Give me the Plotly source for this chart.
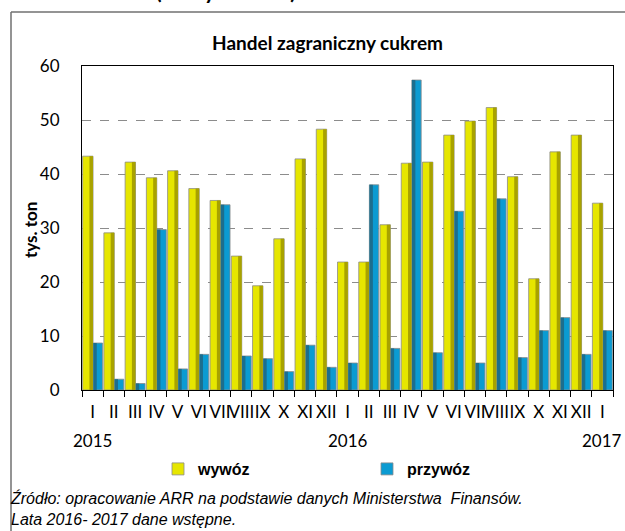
import plotly.graph_objects as go

months = ["I", "II", "III", "IV", "V", "VI", "VII", "VIII", "IX", "X", "XI", "XII",
          "I", "II", "III", "IV", "V", "VI", "VII", "VIII", "IX", "X", "XI", "XII", "I"]
years = ["2015"] * 12 + ["2016"] * 12 + ["2017"]
keys = [f"{y}-{i:02d}" for i, y in enumerate(years)]
year_labels = {0: "2015", 12: "2016", 24: "2017"}

wywoz = [43.3, 29.1, 42.2, 39.3, 40.6, 37.3, 35.1, 24.8, 19.3, 28.0, 42.8, 48.3,
         23.7, 23.7, 30.6, 42.0, 42.2, 47.2, 49.8, 52.3, 39.5, 20.6, 44.1, 47.2, 34.6]
przywoz = [8.7, 2.0, 1.2, 29.7, 3.9, 6.6, 34.3, 6.3, 5.8, 3.4, 8.3, 4.2,
           5.0, 38.0, 7.7, 57.4, 6.9, 33.1, 5.0, 35.4, 6.0, 11.0, 13.4, 6.6, 11.0]

Y_BRIGHT, Y_DARK = "#E6E600", "#A8A200"
B_BRIGHT, B_DARK = "#0B9BD2", "#1C6E8E"

fig = go.Figure()
# main faces
fig.add_trace(go.Bar(x=keys, y=wywoz, name="wywóz", offset=-0.47, width=0.49,
                     marker=dict(color=Y_BRIGHT, line=dict(color="#8a8a8a", width=0.8))))
fig.add_trace(go.Bar(x=keys, y=przywoz, name="przywóz", offset=0.03, width=0.44,
                     marker=dict(color=B_BRIGHT, line=dict(color="#8a8a8a", width=0.8))))
# shaded sides (3D look)
fig.add_trace(go.Bar(x=keys, y=wywoz, showlegend=False, offset=-0.15, width=0.165,
                     marker=dict(color=Y_DARK, line=dict(width=0)), hoverinfo="skip"))
fig.add_trace(go.Bar(x=keys, y=przywoz, showlegend=False, offset=0.035, width=0.16,
                     marker=dict(color=B_DARK, line=dict(width=0)), hoverinfo="skip"))

L, R, T, B = 82, 12, 66, 141
W, H = 625, 531
pw, ph = W - L - R, H - T - B

def px_x(x):
    return (x - L) / pw

def px_y(y):
    return 1 - (y - T) / ph

tick_font = dict(family="Lato, Carlito, Calibri, sans-serif", size=17, color="#000")

fig.update_layout(
    width=W, height=H,
    margin=dict(l=L, r=R, t=T, b=B, autoexpand=False),
    paper_bgcolor="white", plot_bgcolor="white",
    barmode="overlay",
    showlegend=True,
    legend=dict(orientation="h", x=px_x(158), xanchor="left", y=px_y(469), yanchor="middle",
                entrywidth=164, entrywidthmode="pixels",
                font=dict(family="Liberation Sans Narrow, Arial Narrow, Liberation Sans, sans-serif",
                          size=16, color="#000", weight="bold"),
                bgcolor="rgba(0,0,0,0)"),
    xaxis=dict(type="category", tickmode="array", tickvals=keys, ticktext=months,
               tickson="boundaries", ticks="outside", ticklen=6, tickcolor="#000",
               tickangle=0, tickfont=tick_font, showline=True, linecolor="#000",
               linewidth=1, mirror=True, showgrid=False, range=[-0.5, 24.5],
               ticklabelstandoff=7, automargin=False),
    yaxis=dict(range=[0, 60], dtick=10, showgrid=True, gridcolor="#8c8c8c",
               griddash="dash", gridwidth=1, showline=True, linecolor="#000",
               linewidth=1, mirror=True, ticks="", tickfont=tick_font,
               ticklabelstandoff=18, zeroline=False, automargin=False),
)

annotations = []
annotations.append(dict(x=px_x(327), y=px_y(42), xref="paper", yref="paper",
                        xanchor="center", yanchor="middle", showarrow=False,
                        text="<b>Handel zagraniczny cukrem</b>",
                        font=dict(family="Lato, Carlito, Calibri, sans-serif", size=19, color="#000")))
for idx, lab in year_labels.items():
    annotations.append(dict(x=keys[idx], xref="x", y=px_y(440), yref="paper",
                            text=lab, showarrow=False, xanchor="center", yanchor="middle",
                            font=tick_font))
annotations.append(dict(x=px_x(30), y=px_y(230), xref="paper", yref="paper",
                        xanchor="center", yanchor="middle",
                        text="<b>tys. ton</b>", textangle=-90, showarrow=False,
                        font=dict(family="Lato, Carlito, Calibri, sans-serif", size=17, color="#000")))
annotations.append(dict(x=px_x(8), y=px_y(487), xref="paper", yref="paper",
                        xanchor="left", yanchor="top", align="left", showarrow=False,
                        text="<i>Źródło: opracowanie ARR na podstawie danych Ministerstwa  Finansów.<br>"
                             "Lata 2016- 2017 dane wstępne.</i>",
                        font=dict(family="Liberation Sans Narrow, Arial Narrow, Liberation Sans, sans-serif",
                                  size=16, color="#000")))
annotations.append(dict(x=px_x(152), y=px_y(6), xref="paper", yref="paper",
                        xanchor="left", yanchor="bottom", showarrow=False,
                        text="(w tys. ton)",
                        font=dict(family="Lato, Carlito, Calibri, sans-serif", size=30, color="#000")))
fig.update_layout(annotations=annotations)

# outer frame (left and top edges)
fig.add_shape(type="line", xref="paper", yref="paper", x0=px_x(11), x1=px_x(11),
              y0=px_y(12), y1=px_y(540), line=dict(color="#707070", width=1.5))
fig.add_shape(type="line", xref="paper", yref="paper", x0=px_x(11), x1=px_x(640),
              y0=px_y(12), y1=px_y(12), line=dict(color="#707070", width=1.5))

fig.write_html("out.html", config={"displayModeBar": False},
               post_script="document.body.style.margin='0px';")
